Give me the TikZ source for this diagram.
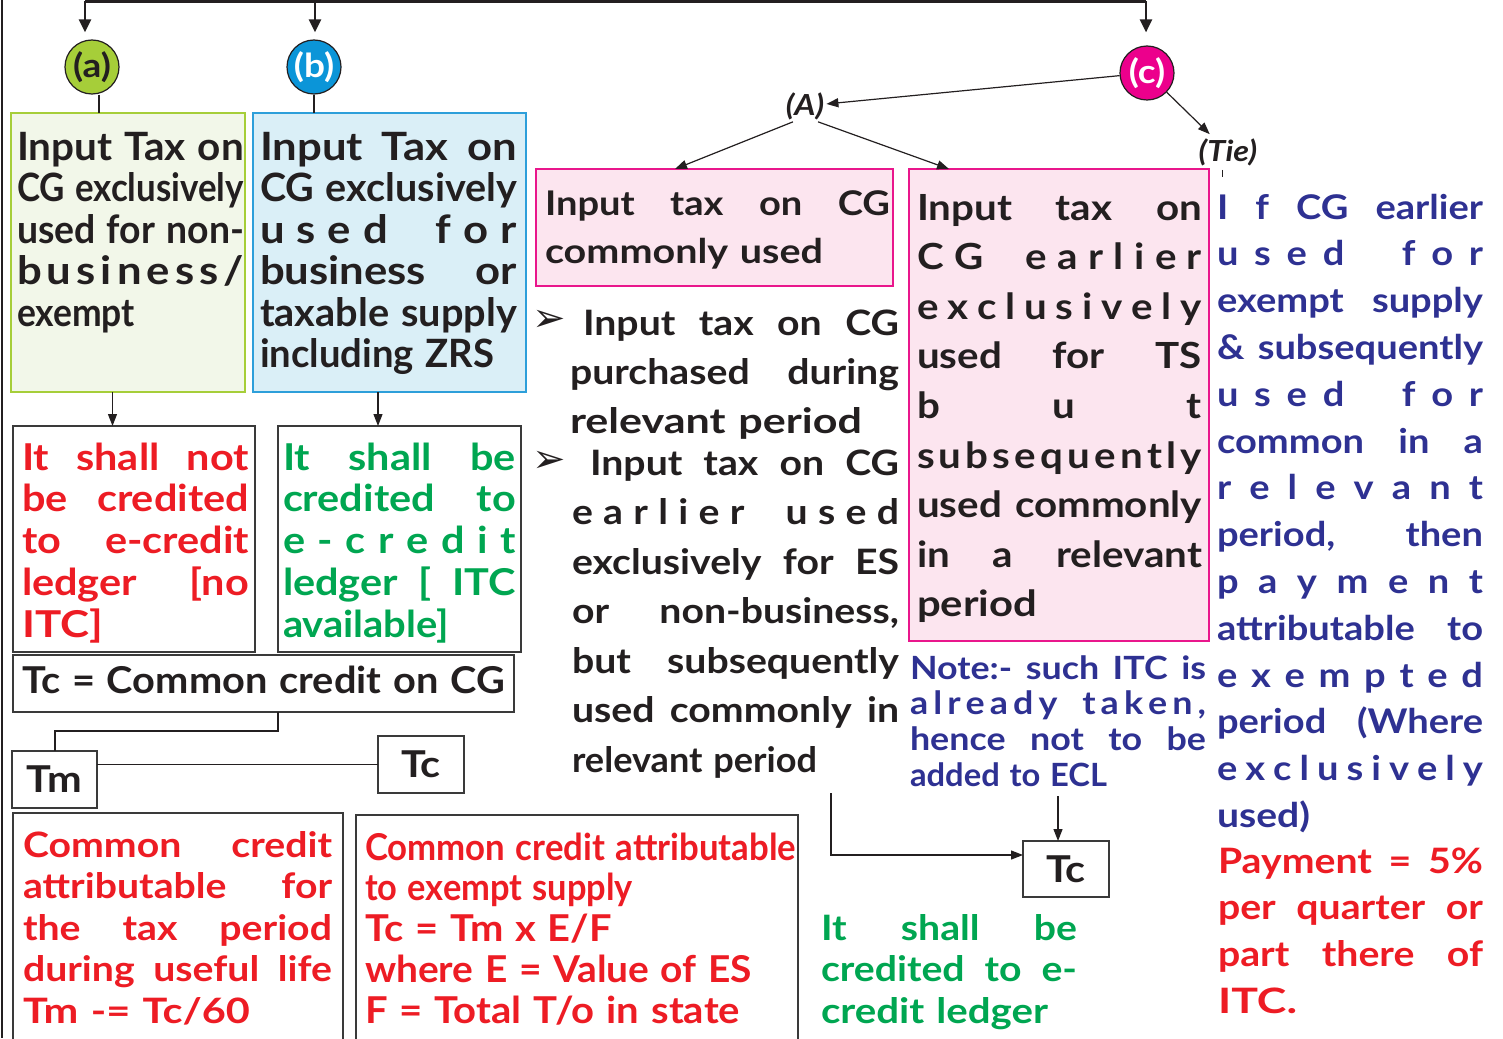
\documentclass[tikz,border=0pt]{standalone}
\usepackage{fontspec}
\setmainfont{Lato}[FakeStretch=1.12]
\newfontfamily\symfont{DejaVu Sans}
\usepackage{graphicx}
\usetikzlibrary{arrows.meta,calc}

\definecolor{ink}{HTML}{231F20}
\definecolor{redt}{HTML}{ED1C24}
\definecolor{grnt}{HTML}{00A651}
\definecolor{bluet}{HTML}{2E3192}
\definecolor{agreen}{HTML}{A6CE39}
\definecolor{agfill}{HTML}{F2F7E9}
\definecolor{bblue}{HTML}{0B95D8}
\definecolor{bline}{HTML}{2D9FDA}
\definecolor{bfill}{HTML}{DAEFF7}
\definecolor{cmag}{HTML}{EC008C}
\definecolor{pfill}{HTML}{FCE5EF}
\definecolor{pline}{HTML}{E9168C}
\definecolor{framec}{HTML}{3A3A3A}

\lineskiplimit=-500pt
\lineskip=0pt
\hbadness=10000
\hfuzz=5pt

% line helpers: justified line, line of given width, letter-spaced word
\makeatletter
\newdimen\jl@w
\newcommand\jline[1]{\noindent\settowidth\jl@w{#1}%
  \ifdim\jl@w>\linewidth
    \pgfmathsetmacro\jl@r{\linewidth/\jl@w}%
    \scalebox{\jl@r}[1]{#1}%
  \else
    \hbox to\linewidth{\spaceskip=0.25em plus 1fil\relax #1}%
  \fi\par}
\newcommand\wline[2]{\noindent\settowidth\jl@w{#2}%
  \pgfmathsetmacro\jl@r{#1/\jl@w}%
  \scalebox{\jl@r}[1]{#2}\par}
\newcommand\ltsp[1]{\let\ltsp@sep\relax\@tfor\ltsp@c:=#1\do{\ltsp@sep\ltsp@c\let\ltsp@sep\ltsp@gap}}
\def\ltsp@gap{\hskip 0pt plus 1fil\relax}
\newcommand\wg{\hskip 0.3em plus 3fil\relax}
\makeatother
\newcommand\tsz[2]{\fontsize{#1}{#2}\selectfont\bfseries}

\tikzset{
  para/.style={anchor=base west, inner sep=0pt, outer sep=0pt, text width=#1},
  frame/.style={draw=framec, line width=1.2pt, inner sep=0pt, outer sep=0pt, anchor=north west},
  badge/.style={circle, draw=ink, line width=1.2pt, minimum size=54pt, inner sep=0pt, font=\tsz{33}{33}},
  conn/.style={draw=ink, line width=1.2pt},
  arr/.style={conn, -{Triangle[length=12pt,width=9pt]}},
  toparr/.style={draw=ink, line width=2.4pt, -{Triangle[length=13pt,width=12pt]}},
  tag/.style={font=\fontsize{29}{29}\selectfont\bfseries\itshape, text=ink, inner sep=2pt}
}

\begin{document}
\begin{tikzpicture}[x=1pt,y=-1pt]
\useasboundingbox (0,0) rectangle (1503,1038);

% ---------- left border and top distribution line ----------
\draw[conn] (2,0) -- (2,1038);
\coordinate (ta) at (85,1.5);
\coordinate (tb) at (315,1.5);
\coordinate (tcx) at (1146,1.5);
\draw[draw=ink, line width=3pt] (ta) -- (tcx);

% ---------- badges ----------
\node[badge, fill=agreen, text=ink] (a) at (92,67) {(a)};
\node[badge, fill=bblue, text=white] (b) at (314,67) {(b)};
\node[badge, fill=cmag, text=white] (c) at (1147,73) {(c)};

\draw[toparr, shorten >=7pt] (ta) -- (ta |- a.north);
\draw[toparr, shorten >=7pt] (tb) -- (tb |- b.north);
\draw[toparr, shorten >=13pt] (tcx) -- (tcx |- c.north);

% ---------- boxes ----------
\node[frame, draw=agreen, fill=agfill, minimum width=234pt, minimum height=279pt] (boxa) at (11,113) {};
\node[frame, draw=bline, fill=bfill, minimum width=273pt, minimum height=279pt] (boxb) at (253,113) {};
\node[frame, minimum width=242pt, minimum height=226pt] (redbox) at (13,426) {};
\node[frame, minimum width=243pt, minimum height=226pt] (grnbox) at (278,426) {};
\node[frame, minimum width=501pt, minimum height=57pt] (cc) at (13,655) {};
\node[frame, minimum width=85pt, minimum height=57pt, font=\tsz{37}{37}, text=ink] (tm) at (12,751) {Tm};
\node[frame, minimum width=86pt, minimum height=57pt, font=\tsz{37}{37}, text=ink] (tc1) at (378,736) {Tc};
\node[frame, minimum width=330pt, minimum height=240pt] (blred) at (13,813) {};
\node[frame, minimum width=442pt, minimum height=240pt] (brred) at (356,815) {};
\node[frame, draw=pline, fill=pfill, minimum width=357pt, minimum height=117pt] (pink1) at (536,169) {};
\node[frame, draw=pline, fill=pfill, minimum width=300pt, minimum height=472pt] (pink2) at (909,169) {};
\node[frame, minimum width=86pt, minimum height=56pt, font=\tsz{37}{37}, text=ink] (tc2) at (1023,841) {Tc};

% ---------- tags under (c) ----------
\node[tag] (A) at (805,106) {(A)};
\node[tag, inner sep=4pt] (Tie) at (1228,152) {(Tie)};

% ---------- connectors ----------
\draw[conn] ([xshift=7pt]a.south) -- ([xshift=7pt]a.south |- boxa.north);
\draw[conn] (b.south) -- (b.south |- boxb.north);
\coordinate (xa) at (112.5,0);
\coordinate (xb) at (378,0);
\draw[arr] (boxa.south -| xa) -- (redbox.north -| xa);
\draw[arr] (boxb.south -| xb) -- (grnbox.north -| xb);
\coordinate (j1) at (278,731);
\coordinate (j2) at (55,751);
\draw[conn] (cc.south -| j1) -- (j1) -| (tm.north -| j2);
\draw[conn] (tc1.west) -- (tc1.west -| tm.east);

\draw[arr] (c) -- (A);
\draw[arr] (c) -- (Tie);
\draw[arr] ([xshift=-12pt]A.south) -- (pink1.north -| 675,0);
\draw[arr] ([xshift=13pt]A.south) -- (pink2.north -| 949,0);
\coordinate (tk) at (1222,177);
\draw[conn, line width=0.8pt] (tk |- Tie.south) -- (tk);

\coordinate (m1) at (831,793);
\draw[arr] (m1) |- ([yshift=14pt]tc2.west);
\coordinate (n1) at (1058,796);
\draw[arr] (n1) -- (tc2.north -| n1);

% ---------- texts ----------
\node[para=227pt, text=ink, font=\tsz{39}{41.5}] (tboxa) at (17,160) {%
\jline{Input Tax on}
\jline{CG exclusively}
\jline{used for non-}
\jline{\ltsp{business/}}
\wline{118}{exempt}};

\node[para=257pt, text=ink, font=\tsz{39}{41.5}] (tboxb) at (260,160) {%
\jline{Input Tax on}
\jline{CG exclusively}
\jline{\ltsp{used}\wg\ltsp{for}}
\jline{business or}
\jline{taxable supply}
\wline{234}{including ZRS}};

\node[para=227pt, text=redt, font=\tsz{37}{41.75}] (tred) at (22,470) {%
\jline{It shall not}
\jline{be credited}
\jline{to e-credit}
\jline{ledger [no}
\wline{81}{ITC]}};

\node[para=233pt, text=grnt, font=\tsz{37}{41.75}] (tgrn) at (283,470) {%
\jline{It shall be}
\jline{credited to}
\jline{\ltsp{e-credit}}
\jline{ledger [ ITC}
\wline{166}{available]}};

\node[para=483pt, text=ink, font=\tsz{37}{40}] (tcc) at (22,693) {%
\jline{Tc = Common credit on CG}};

\node[para=309pt, text=redt, font=\tsz{35}{41.5}] (tbl) at (23,857) {%
\jline{Common credit}
\jline{attributable for}
\jline{the tax period}
\jline{during useful life}
\wline{227}{Tm -= Tc/60}};

\node[para=431pt, text=redt, font=\tsz{37}{40.8}] (tbr) at (365,860) {%
\jline{Common credit attributable}
\wline{268}{to exempt supply}
\wline{247}{Tc = Tm x E/F}
\wline{387}{where E = Value of ES}
\wline{375}{F = Total T/o in state}};

\node[para=345pt, text=ink, font=\tsz{34}{48}] (tp1) at (545,215) {%
\jline{Input tax on CG}
\wline{278}{commonly used}};

\node[inner sep=0pt, text=ink, font=\symfont\fontsize{40}{40}\selectfont] (bul1) at (549,321) {➢};
\node[inner sep=0pt, text=ink, font=\symfont\fontsize{40}{40}\selectfont] (bul2) at (549,462) {➢};

\node[para=329pt, text=ink, font=\tsz{35}{49}] (tbul1) at (570,335) {%
\jline{\hspace{13pt}Input tax on CG}
\jline{purchased during}
\wline{292}{relevant period}};

\node[para=327pt, text=ink, font=\tsz{35}{49.5}] (tbul2) at (572,475) {%
\jline{\hspace{18pt}Input tax on CG}
\jline{\ltsp{earlier}\wg\ltsp{used}}
\jline{exclusively for ES}
\jline{or non-business,}
\jline{but subsequently}
\jline{used commonly in}
\wline{245}{relevant period}};

\node[para=285pt, text=ink, font=\tsz{36}{49.6}] (tp2) at (917,220) {%
\jline{Input tax on}
\jline{\ltsp{CG}\wg\ltsp{earlier}}
\jline{\ltsp{exclusively}}
\jline{used for TS}
\jline{\ltsp{but}}
\jline{\ltsp{subsequently}}
\jline{used commonly}
\jline{in a relevant}
\wline{120}{period}};

\node[para=296pt, text=bluet, font=\tsz{32}{35.7}] (note) at (910,679) {%
\jline{Note:- such ITC is}
\jline{\ltsp{already}\wg\ltsp{taken,}}
\jline{hence not to be}
\wline{197}{added to ECL}};

\node[para=256pt, text=grnt, font=\tsz{35}{41.5}] (tgl) at (821,940) {%
\jline{It shall be}
\jline{credited to e-}
\wline{227}{credit ledger}};

\node[para=266pt, text=bluet, font=\tsz{34}{46.8}] (tblue) at (1217,219) {%
\jline{I f CG earlier}
\jline{\ltsp{used}\wg\ltsp{for}}
\jline{exempt supply}
\jline{\& subsequently}
\jline{\ltsp{used}\wg\ltsp{for}}
\jline{common in a}
\jline{\ltsp{relevant}}
\jline{period, then}
\jline{\ltsp{payment}}
\jline{attributable to}
\jline{\ltsp{exempted}}
\jline{period (Where}
\jline{\ltsp{exclusively}}
\wline{93}{used)}};

\node[para=265pt, text=redt, font=\tsz{35}{46.7}] (tpay) at (1218,873) {%
\jline{Payment = 5\%}
\jline{per quarter or}
\jline{part there of}
\wline{79}{ITC.}};

\end{tikzpicture}
\end{document}
